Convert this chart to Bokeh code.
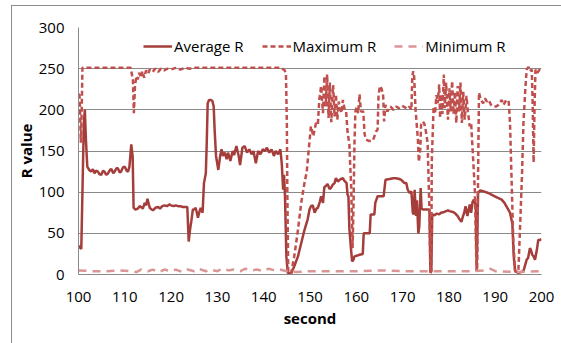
from bokeh.plotting import figure
from bokeh.models import Range1d, FixedTicker, Legend, LegendItem
from bokeh.embed import file_html
from bokeh.resources import INLINE

# ---------------- data ----------------
avg_t = [100.0, 100.3, 100.6, 100.85, 101.15, 101.37, 101.6, 101.9, 102.3, 102.74, 103.1, 103.46, 103.8,
         104.2, 104.5, 104.9, 105.3, 105.6, 106.0, 106.4, 106.8, 107.1, 107.5, 107.8, 108.2, 108.5, 108.9,
         109.2, 109.6, 110.0, 110.4, 110.7, 111.0, 111.4, 111.7, 111.9, 112.3, 112.8, 113.2, 113.5, 113.9,
         114.3, 114.6, 114.9, 115.2, 115.4, 115.8, 116.1, 116.6, 117.2, 117.6, 118.1, 118.6, 119.1, 119.6,
         120.0, 120.5, 121.0, 121.5, 122.0, 122.5, 122.9, 123.5, 123.8, 124.1, 124.4, 124.7, 125.0, 125.3,
         125.6, 125.8, 126.1, 126.4, 126.8, 127.1, 127.5, 127.7, 127.9, 128.2, 128.6, 128.9, 129.2, 129.4,
         129.7, 130.2, 130.6, 130.9, 131.2, 131.6, 132.0, 132.3, 132.8, 133.3, 133.6, 134.1, 134.6, 134.9,
         135.4, 135.9, 136.4, 136.9, 137.4, 137.8, 138.3, 138.8, 139.3, 139.8, 140.3, 140.7, 141.2, 141.7,
         142.2, 142.6, 143.1, 143.6, 143.9, 144.2, 144.4, 144.6, 144.9, 145.2, 145.9, 146.6, 147.4, 148.1,
         148.8, 149.5, 149.9, 150.2, 150.6, 151.0, 151.4, 151.7, 152.1, 152.4, 152.8, 153.1, 153.5, 153.8,
         154.2, 154.5, 154.9, 155.3, 155.6, 156.0, 156.4, 156.7, 157.1, 157.4, 157.9, 158.1, 158.3, 158.5,
         158.9, 159.1, 159.4, 159.6, 160.2, 160.7, 161.4, 161.6, 162.3, 162.9, 163.1, 163.9, 164.1, 164.6,
         165.2, 165.9, 166.3, 167.2, 168.0, 168.6, 169.3, 169.7, 170.4, 170.8, 171.1, 171.5, 171.9, 172.2,
         172.4, 172.6, 172.9, 173.1, 173.4, 173.6, 173.9, 174.1, 174.4, 175.1, 175.8, 176.0, 176.2, 176.4,
         176.9, 177.4, 177.9, 178.3, 179.0, 179.8, 180.1, 180.9, 181.4, 181.9, 182.3, 182.7, 183.0, 183.3,
         183.6, 184.0, 184.5, 184.8, 185.1, 185.4, 185.8, 186.0, 186.3, 186.7, 187.5, 188.5, 189.2, 189.9,
         190.6, 191.4, 192.0, 192.4, 192.8, 193.2, 193.7, 194.0, 194.3, 195.0, 195.6, 196.1, 196.8, 197.1,
         197.5, 197.7, 198.0, 198.3, 198.6, 199.0, 199.3, 199.7, 200.0]
avg_v = [35, 33, 31, 100, 184, 200, 164, 131, 127, 125, 128, 123, 126,
         125, 122, 121, 126, 125, 121, 123, 127, 128, 123, 125, 129, 129, 124,
         125, 130, 131, 126, 125, 131, 158, 143, 81, 79, 80, 83, 82, 80,
         87, 84, 92, 85, 81, 79, 78, 81, 82, 80, 83, 84, 83, 85,
         84, 83, 84, 83, 83, 82, 82, 82, 40, 55, 66, 79, 79, 81,
         74, 69, 76, 81, 75, 111, 123, 160, 208, 212, 212, 211, 204, 176,
         144, 127, 144, 152, 144, 148, 140, 148, 138, 150, 145, 156, 144, 133,
         154, 156, 148, 152, 146, 150, 135, 150, 146, 152, 150, 154, 148, 152,
         144, 150, 146, 152, 135, 103, 121, 95, 22, 2, 1, 10, 22, 38,
         54, 67, 79, 83, 84, 75, 80, 81, 88, 95, 87, 106, 108, 110,
         104, 105, 109, 111, 117, 113, 115, 116, 117, 114, 111, 97, 95, 56,
         28, 16, 18, 22, 23, 24, 25, 50, 50, 50, 73, 73, 87, 95,
         95, 95, 115, 116, 117, 117, 116, 115, 111, 111, 103, 99, 101, 75,
         73, 103, 71, 90, 50, 58, 105, 80, 79, 79, 79, 2, 4, 73,
         72, 74, 73, 75, 76, 78, 77, 76, 74, 71, 67, 64, 70, 75,
         83, 71, 85, 75, 88, 91, 84, 4, 99, 102, 101, 99, 97, 95,
         93, 91, 87, 83, 79, 75, 62, 22, 4, 2, 3, 4, 18, 20,
         32, 30, 24, 22, 18, 30, 42, 42, 43]

max_t = [100.0, 100.2, 100.35, 100.5, 100.7, 100.85, 105.0, 110.0, 111.3, 111.5, 111.75, 111.96, 112.2,
         112.5, 112.8, 113.1, 113.5, 113.8, 114.2, 114.6, 115.0, 115.4, 116.0, 116.6, 117.2, 117.8, 118.5,
         119.2, 120.0, 121.0, 122.0, 123.0, 124.0, 125.0, 130.0, 135.0, 140.0, 143.8, 144.5, 144.8, 145.0,
         145.1, 145.3, 145.9, 146.6, 147.4, 148.1, 148.8, 149.3, 149.7, 150.2, 150.7, 151.3, 151.7, 152.0,
         152.4, 152.8, 153.1, 153.4, 153.7, 154.0, 154.3, 154.6, 155.0, 155.3, 155.6, 155.9, 156.2, 156.4,
         156.8, 157.1, 157.5, 157.8, 158.1, 158.5, 158.9, 159.1, 159.2, 159.4, 159.6, 159.8, 160.1, 160.4,
         160.7, 161.0, 161.5, 161.8, 162.1, 162.8, 163.6, 164.3, 164.6, 164.8, 165.1, 165.5, 165.8, 166.0,
         166.3, 166.7, 167.4, 168.0, 168.6, 169.2, 169.9, 170.5, 171.1, 171.5, 171.9, 172.1, 172.3, 172.5,
         172.8, 173.0, 173.3, 173.5, 173.8, 174.0, 174.4, 174.7, 175.0, 175.4, 175.8, 176.0, 176.2, 176.3,
         176.7, 177.0, 177.3, 177.6, 177.9, 178.1, 178.3, 178.6, 178.9, 179.1, 179.4, 179.8, 180.1, 180.4,
         180.7, 181.0, 181.3, 181.6, 181.9, 182.2, 182.5, 182.8, 183.1, 183.4, 183.8, 184.1, 184.5, 184.8,
         185.2, 185.6, 185.9, 186.1, 186.3, 186.5, 186.9, 187.4, 187.8, 188.2, 188.6, 189.1, 189.5, 190.2,
         190.7, 191.0, 191.4, 191.8, 192.4, 192.9, 193.2, 193.5, 193.9, 194.3, 195.0, 195.4, 195.8, 196.1,
         196.5, 196.8, 197.2, 197.5, 197.9, 198.1, 198.3, 198.5, 198.7, 199.1, 199.6, 200.0]
max_v = [219, 218, 200, 160, 200, 251, 251, 251, 251, 244, 236, 196, 229,
         241, 237, 245, 239, 247, 239, 248, 244, 249, 246, 250, 246, 250, 248,
         250, 249, 251, 249, 251, 250, 251, 251, 251, 251, 251, 248, 245, 184,
         103, 3, 1, 22, 54, 87, 111, 125, 150, 180, 168, 184, 182, 212,
         229, 196, 241, 204, 243, 190, 233, 185, 230, 192, 219, 188, 210, 204,
         196, 212, 200, 198, 174, 158, 105, 56, 32, 84, 158, 198, 204, 196,
         219, 198, 198, 170, 164, 162, 163, 174, 176, 217, 229, 225, 217, 186,
         206, 198, 204, 200, 204, 202, 205, 203, 201, 204, 200, 241, 247, 240,
         200, 186, 164, 137, 150, 182, 186, 183, 175, 160, 77, 2, 4, 137,
         204, 195, 218, 208, 231, 190, 219, 195, 243, 202, 233, 188, 226, 198,
         235, 195, 222, 184, 229, 198, 233, 184, 222, 188, 217, 198, 180, 184,
         144, 103, 22, 3, 120, 221, 212, 208, 214, 210, 212, 206, 204, 204,
         206, 208, 212, 206, 212, 211, 184, 123, 42, 4, 3, 62, 123, 184,
         225, 249, 252, 247, 249, 204, 136, 204, 249, 245, 249, 247]

min_t = [100, 103, 106, 109, 111, 112.5, 113.5, 115, 116, 117.5, 118.5, 120, 121, 122.5, 123.5, 125,
         126, 127.5, 128.5, 130, 131, 132.5, 133.5, 135, 136, 137.5, 138.5, 140, 141, 142.5, 143.5, 145,
         147, 150, 155, 160, 165, 170, 175, 180, 185, 188, 189, 190, 195, 200]
min_v = [5, 4, 4, 5, 4, 3, 6, 4, 6, 3, 6, 4, 6, 3, 6, 4,
         7, 4, 6, 4, 7, 5, 6, 4, 7, 5, 6, 4, 7, 5, 6, 4,
         3, 4, 4, 4, 5, 4, 4, 4, 4, 5, 7, 4, 3, 4]

x_ticks = [100, 110, 120, 130, 140, 150, 160, 170, 180, 190, 200]
y_ticks = [0, 50, 100, 150, 200, 250, 300]
series_names = ["Average R", "Maximum R", "Minimum R"]

# ---------------- figure ----------------
FONT = "Open Sans"
# The figure sits 11px from the left and 5px from the top of the window; its
# left and top edges carry the thin grey chart-area border of the original.
p = figure(width=549, height=337, output_backend="svg", toolbar_location=None,
           x_range=Range1d(100, 200), y_range=Range1d(0, 300),
           min_border_left=66, min_border_right=21, min_border_top=21, min_border_bottom=70,
           background_fill_color="white", border_fill_color="white",
           margin=(5, 0, 0, 11),
           styles={"border-left": "1px solid #8c8c8c", "border-top": "1px solid #8c8c8c",
                   "box-sizing": "content-box"})
p.outline_line_color = None

r_avg = p.line(avg_t, avg_v, line_color="#A53E3B", line_width=2.5)
r_max = p.line(max_t, max_v, line_color="#C0504D", line_width=2.5, line_dash="5 3")
r_min = p.line(min_t, min_v, line_color="#DA9694", line_width=2.5, line_dash="8 6")

p.xgrid.visible = False
p.ygrid.grid_line_color = "#8a8a8a"
p.ygrid.grid_line_width = 1

for ax in (p.xaxis[0], p.yaxis[0]):
    ax.axis_line_color = "#8a8a8a"
    ax.major_tick_line_color = None
    ax.minor_tick_line_color = None
    ax.major_tick_in = 0
    ax.major_tick_out = 0
    ax.major_label_text_font = FONT
    ax.major_label_text_font_size = "15px"
    ax.major_label_text_color = "#000000"
    ax.axis_label_text_font = FONT
    ax.axis_label_text_font_size = "15px"
    ax.axis_label_text_font_style = "bold"
    ax.axis_label_text_color = "#000000"

p.xaxis.ticker = FixedTicker(ticks=x_ticks)
p.yaxis.ticker = FixedTicker(ticks=y_ticks)
p.xaxis.axis_label = "second"
p.yaxis.axis_label = "R value"
p.yaxis.major_label_standoff = 14
p.xaxis.major_label_standoff = 17
p.yaxis.axis_label_standoff = 0
p.xaxis.axis_label_standoff = 3

legend = Legend(items=[LegendItem(label=series_names[0], renderers=[r_avg]),
                       LegendItem(label=series_names[1], renderers=[r_max]),
                       LegendItem(label=series_names[2], renderers=[r_min])],
                orientation="horizontal", location=(65, 218),
                glyph_width=29, glyph_height=20, label_height=20, label_standoff=2,
                spacing=18, padding=0, margin=0,
                border_line_color=None, background_fill_alpha=0,
                label_text_font=FONT, label_text_font_size="15px", label_text_color="#000000")
p.add_layout(legend)

open("out.html", "w").write(file_html(p, INLINE))
